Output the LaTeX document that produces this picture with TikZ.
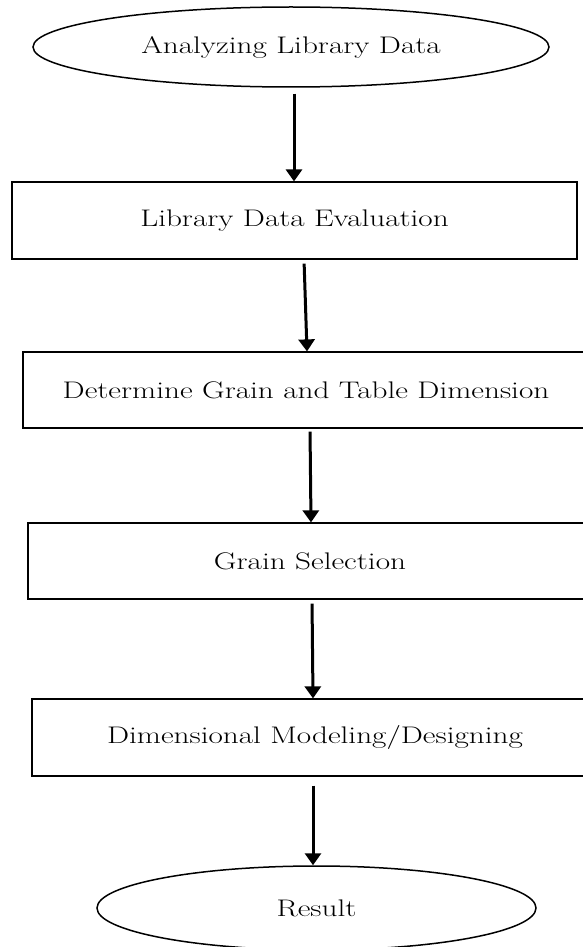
\documentclass[tikz,border=0pt]{standalone}
\usepackage{fontspec}
\usepackage{graphicx}
\usetikzlibrary{shapes.geometric,arrows.meta}
\newcommand{\wt}[1]{\scalebox{1.3}[1]{#1}}
\tikzset{
  txt/.style={font=\fontsize{24}{28}\selectfont},
  stepbox/.style={draw, line width=1.2pt, rectangle, inner sep=0pt, txt},
  oval/.style={draw, line width=1.5pt, ellipse, inner sep=0pt, txt},
  arr/.style={line width=3pt, -{Triangle[width=16pt,length=12pt]}}
}
\begin{document}
\begin{tikzpicture}[x=1pt,y=-1pt]
\useasboundingbox (0,0) rectangle (583,947);
\clip (0,0) rectangle (583,947);
\node[oval, minimum width=516pt, minimum height=80pt] (e1) at (291,47) {\wt{Analyzing Library Data}};
\node[stepbox, minimum width=565pt, minimum height=77pt] (b1) at (294.5,220.5) {\wt{Library Data Evaluation}};
\node[stepbox, minimum width=566pt, minimum height=76pt] (b2) at (306,390) {\wt{Determine Grain and Table Dimension}};
\node[stepbox, minimum width=564pt, minimum height=76pt] (b3) at (310,561) {\wt{Grain Selection}};
\node[stepbox, minimum width=566pt, minimum height=77pt] (b4) at (315,737.5) {\wt{Dimensional Modeling/Designing}};
\node[oval, minimum width=439pt, minimum height=84pt] (e2) at (316.5,908) {\wt{Result}};
\draw[arr, shorten <=6pt] ([xshift=3pt]e1.south) -- ([xshift=-0.5pt]b1.north);
\draw[arr, shorten <=4pt] ([xshift=9.5pt]b1.south) -- ([xshift=1pt]b2.north);
\draw[arr, shorten <=3pt] ([xshift=4pt]b2.south) -- ([xshift=1pt]b3.north);
\draw[arr, shorten <=4pt] ([xshift=2pt]b3.south) -- ([xshift=-2pt]b4.north);
\draw[arr, shorten <=9pt] ([xshift=-2pt]b4.south) -- ([xshift=-3.5pt]e2.north);
\end{tikzpicture}
\end{document}
